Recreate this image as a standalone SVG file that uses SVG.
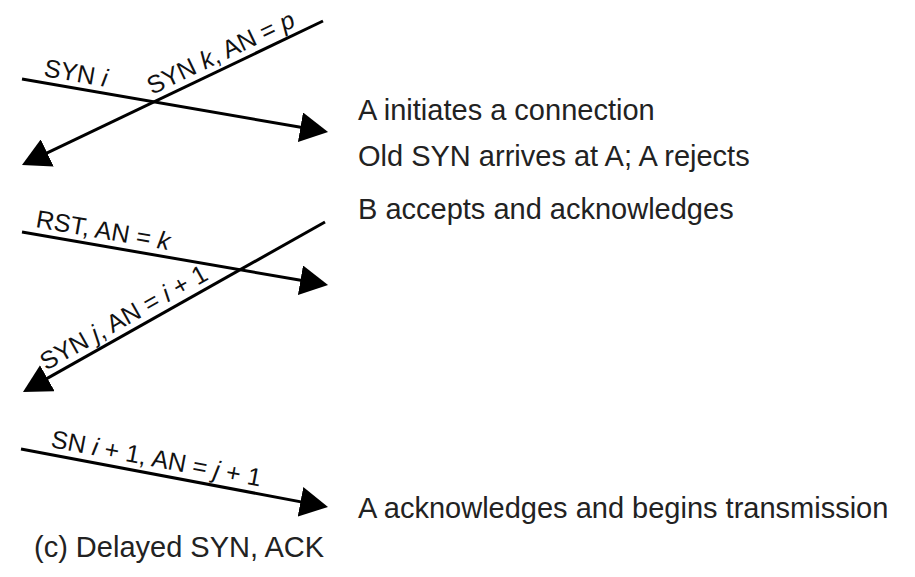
<svg xmlns="http://www.w3.org/2000/svg" width="915" height="577" viewBox="0 0 915 577">
<style>
.ln{stroke:#000;stroke-width:3;fill:none;marker-end:url(#ah)}
.lbl{font-family:"Liberation Sans",Arial,sans-serif;font-size:25px;fill:#111}
.note{font-family:"Liberation Sans",Arial,sans-serif;font-size:29px;fill:#222}
.v{font-style:italic}
</style>
<defs>
<marker id="ah" markerUnits="userSpaceOnUse" viewBox="0 0 28 30" refX="18" refY="15" markerWidth="28" markerHeight="30" orient="auto">
<path d="M0,0 L28,15 L0,30 Z" fill="#000"/>
</marker>
</defs>
<rect width="915" height="577" fill="#fff"/>
<g id="connectors">
<line class="ln" x1="22" y1="79" x2="318.2" y2="130.3"/>
<line class="ln" x1="323" y1="21" x2="31" y2="160.7"/>
<line class="ln" x1="22" y1="232" x2="318.2" y2="283.3"/>
<line class="ln" x1="325" y1="222" x2="31.7" y2="387.1"/>
<line class="ln" x1="21" y1="449" x2="318.2" y2="505.1"/>
</g>
<g id="labels">
<text class="lbl" transform="translate(43,76) rotate(9.83)">SYN <tspan class="v">i</tspan></text>
<text class="lbl" transform="translate(152,95) rotate(-25.57)">SYN <tspan class="v">k</tspan>, AN = <tspan class="v">p</tspan></text>
<text class="lbl" transform="translate(35,227) rotate(9.83)">RST, AN = <tspan class="v">k</tspan></text>
<text class="lbl" transform="translate(46,371) rotate(-29.37)">SYN <tspan class="v">j</tspan>, AN = <tspan class="v">i</tspan> + 1</text>
<text class="lbl" transform="translate(50,447) rotate(10.7)">SN <tspan class="v">i</tspan> + 1, AN = <tspan class="v">j</tspan> + 1</text>
</g>
<g id="notes">
<text class="note" x="358" y="120">A initiates a connection</text>
<text class="note" x="358" y="166">Old SYN arrives at A; A rejects</text>
<text class="note" x="358" y="219">B accepts and acknowledges</text>
<text class="note" x="358" y="518">A acknowledges and begins transmission</text>
<text class="note" x="34" y="557">(c) Delayed SYN, ACK</text>
</g>
</svg>
